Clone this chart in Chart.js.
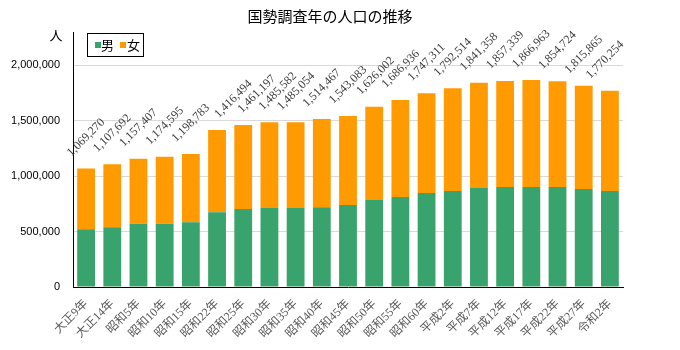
<!DOCTYPE html>
<html>
<head>
<meta charset="utf-8">
<script src="https://cdn.jsdelivr.net/npm/chart.js@4"></script>
<style>
  body { margin: 0; background: #fff; }
</style>
</head>
<body>
<canvas id="popChart" width="680" height="350"></canvas>
<script>
// 国勢調査年
var categories = ["大正9年", "大正14年", "昭和5年", "昭和10年", "昭和15年", "昭和22年", "昭和25年",
  "昭和30年", "昭和35年", "昭和40年", "昭和45年", "昭和50年", "昭和55年", "昭和60年",
  "平成2年", "平成7年", "平成12年", "平成17年", "平成22年", "平成27年", "令和2年"];

// 男
var male = [522000, 540000, 570000, 570000, 585000, 675000, 703000, 712000, 712000, 720000, 739000,
  784000, 811000, 847000, 865000, 892000, 901000, 901000, 901000, 883000, 865000];

// 女
var female = [547270, 567692, 587407, 604595, 613783, 741494, 758197, 773582, 773054, 794467, 804083,
  842002, 875936, 900311, 927514, 949358, 956339, 965963, 953724, 932865, 905254];

// 目盛り
var yTicks = [0, 500000, 1000000, 1500000, 2000000];
var yMax = 2300000;

var titleText = "国勢調査年の人口の推移";
var unitText = "人";

var GREEN = "#38a36d";
var ORANGE = "#ff9a00";
var CJK = "'Noto Sans CJK JP', 'Liberation Sans', sans-serif";

// タイトル・単位・凡例・合計ラベル
var extras = {
  id: "extras",
  afterDatasetsDraw: function(chart) {
    var ctx = chart.ctx;
    var top = chart.getDatasetMeta(1);
    var area = chart.chartArea;
    var prev = null;
    ctx.save();
    ctx.fillStyle = "#404040";
    ctx.font = "12px 'Liberation Serif', serif";
    ctx.textAlign = "center";
    ctx.textBaseline = "middle";
    top.data.forEach(function(bar, i) {
      var total = male[i] + female[i];
      var cx = bar.x, cy = bar.y - 31;
      // 隣のラベルと重ならないよう右にずらす
      if (prev) {
        var d = ((cx - prev.x) + (cy - prev.y)) / Math.SQRT2;
        if (d < 13) cx += (13 - d) * Math.SQRT2;
      }
      cx = Math.min(cx, area.right - 18);
      prev = { x: cx, y: cy };
      ctx.save();
      ctx.translate(cx, cy);
      ctx.rotate(-Math.PI / 4);
      ctx.fillText(total.toLocaleString("en-US"), 0, 0);
      ctx.restore();
    });
    ctx.restore();
  },
  afterDraw: function(chart) {
    var ctx = chart.ctx;
    ctx.save();
    // タイトル
    ctx.fillStyle = "#000";
    ctx.font = "15px " + CJK;
    ctx.textAlign = "center";
    ctx.textBaseline = "middle";
    ctx.fillText(titleText, 330, 16);
    // 単位
    ctx.font = "13px " + CJK;
    ctx.fillText(unitText, 56, 35);
    // 凡例
    ctx.fillStyle = "#fff";
    ctx.fillRect(87.5, 33.5, 56, 23);
    ctx.strokeStyle = "#000";
    ctx.lineWidth = 1;
    ctx.strokeRect(87.5, 33.5, 56, 23);
    ctx.fillStyle = GREEN;
    ctx.fillRect(95, 42, 6, 6);
    ctx.fillStyle = ORANGE;
    ctx.fillRect(120, 42, 6, 6);
    ctx.fillStyle = "#000";
    ctx.textAlign = "left";
    ctx.fillText("男", 101, 45);
    ctx.fillText("女", 127, 45);
    ctx.restore();
  }
};

var ctx = document.getElementById("popChart").getContext("2d");
var chart = new Chart(ctx, {
  type: "bar",
  data: {
    labels: categories,
    datasets: [
      { label: "男", data: male, backgroundColor: GREEN },
      { label: "女", data: female, backgroundColor: ORANGE }
    ]
  },
  options: {
    responsive: false,
    animation: false,
    layout: { padding: { top: 32, right: 57, left: 0, bottom: 0 } },
    datasets: {
      bar: { barPercentage: 0.68, categoryPercentage: 1.0 }
    },
    plugins: {
      legend: { display: false },
      title: { display: false },
      tooltip: { enabled: false }
    },
    scales: {
      x: {
        stacked: true,
        grid: { display: false },
        border: { color: "#000", width: 1 },
        ticks: {
          color: "#595959",
          font: { family: "'Liberation Serif', 'Noto Sans CJK JP', serif", size: 12 },
          minRotation: 45,
          maxRotation: 45,
          padding: 2
        },
        afterFit: function(scale) { scale.height = 63; }
      },
      y: {
        stacked: true,
        min: 0,
        max: yMax,
        border: { color: "#000", width: 1 },
        grid: { drawTicks: false, color: "#d9d9d9" },
        afterBuildTicks: function(scale) {
          scale.ticks = yTicks.map(function(v) { return { value: v }; });
        },
        ticks: {
          padding: 13,
          color: "#000",
          font: { family: "'Liberation Sans', sans-serif", size: 11 },
          callback: function(v) { return v.toLocaleString("en-US"); }
        },
        afterFit: function(scale) { scale.width = 73; }
      }
    }
  },
  plugins: [extras]
});
</script>
</body>
</html>
